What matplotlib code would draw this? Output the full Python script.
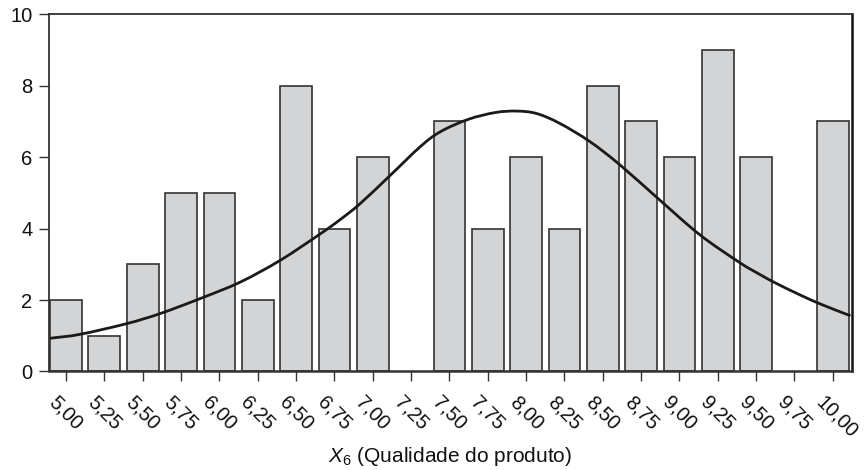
import matplotlib.pyplot as plt
import matplotlib.transforms as mtransforms
from matplotlib.path import Path
from matplotlib.patches import PathPatch
import numpy as np

plt.rcParams['font.family'] = 'Liberation Sans'
plt.rcParams['mathtext.fontset'] = 'custom'
plt.rcParams['mathtext.rm'] = 'Liberation Sans'
plt.rcParams['mathtext.it'] = 'Liberation Sans:italic'

# histogram bins (bin centres) and counts
bin_centers = [5.00, 5.25, 5.50, 5.75, 6.00, 6.25, 6.50, 6.75, 7.00, 7.25, 7.50,
               7.75, 8.00, 8.25, 8.50, 8.75, 9.00, 9.25, 9.50, 9.75, 10.00]
bin_labels = ['5,00', '5,25', '5,50', '5,75', '6,00', '6,25', '6,50', '6,75', '7,00',
              '7,25', '7,50', '7,75', '8,00', '8,25', '8,50', '8,75', '9,00', '9,25',
              '9,50', '9,75', '10,00']
counts = [2, 1, 3, 5, 5, 2, 8, 4, 6, 0, 7, 4, 6, 4, 8, 7, 6, 9, 6, 0, 7]

# normal curve
curve_x = [4.896, 5.091, 5.396, 5.613, 5.874, 6.135, 6.396, 6.657, 6.787, 6.918,
           7.114, 7.309, 7.440, 7.624, 7.800, 7.940, 8.070, 8.222, 8.418, 8.613,
           8.874, 9.135, 9.396, 9.527, 9.625, 9.788, 9.930, 10.115]
curve_y = [0.93, 1.04, 1.34, 1.62, 2.04, 2.50, 3.11, 3.85, 4.25, 4.70,
           5.49, 6.29, 6.71, 7.06, 7.25, 7.29, 7.22, 6.94, 6.43, 5.78,
           4.79, 3.82, 3.04, 2.71, 2.48, 2.14, 1.87, 1.56]

fig = plt.figure(figsize=(8.64, 4.70), dpi=100)
ax = fig.add_axes([0.0567, 0.2096, 0.9294, 0.76])

edges = ['#333333' if c > 0 else 'none' for c in counts]
ax.bar(bin_centers, counts, width=0.207, color='#d3d4d6', edgecolor=edges,
       linewidth=1.2, zorder=2)

# smooth line through the read points (Catmull-Rom as cubic Bezier)
pts = np.column_stack([curve_x, curve_y])
ext = np.vstack([pts[0] - (pts[1] - pts[0]), pts, pts[-1] + (pts[-1] - pts[-2])])
verts = [tuple(pts[0])]
codes = [Path.MOVETO]
for i in range(1, len(ext) - 2):
    p0, p1, p2, p3 = ext[i - 1], ext[i], ext[i + 1], ext[i + 2]
    verts += [tuple(p1 + (p2 - p0) / 6), tuple(p2 - (p3 - p1) / 6), tuple(p2)]
    codes += [Path.CURVE4] * 3
ax.add_patch(PathPatch(Path(verts, codes), facecolor='none', edgecolor='#1a1a1a',
                       linewidth=2.0, zorder=3))

ax.set_xlim(4.889, 10.125)
ax.set_ylim(0, 10)
ax.set_yticks([0, 2, 4, 6, 8, 10])
ax.set_xticks(bin_centers)
ax.set_xticklabels(bin_labels, rotation=-45, ha='left', va='top',
                   rotation_mode='anchor')

ax.tick_params(axis='both', direction='out', length=7, width=1.0,
               color='#333333', labelsize=14.5, labelcolor='#111111')
ax.tick_params(axis='x', pad=8)
ax.tick_params(axis='y', pad=5)

# nudge the rotated labels a bit left, as in the original
shift = mtransforms.ScaledTranslation(-5 / 72, 0, fig.dpi_scale_trans)
for lab in ax.get_xticklabels():
    lab.set_transform(lab.get_transform() + shift)

for s in ax.spines.values():
    s.set_color('#333333')
    s.set_linewidth(1.3)
ax.spines['right'].set_color('#111111')
ax.spines['right'].set_linewidth(1.8)
ax.spines['bottom'].set_linewidth(1.8)

fig.text(0.5215, 0.017, r'$X_6$ (Qualidade do produto)', ha='center', va='baseline',
         fontsize=15, color='#111111')

plt.savefig('out.png', dpi=100)
